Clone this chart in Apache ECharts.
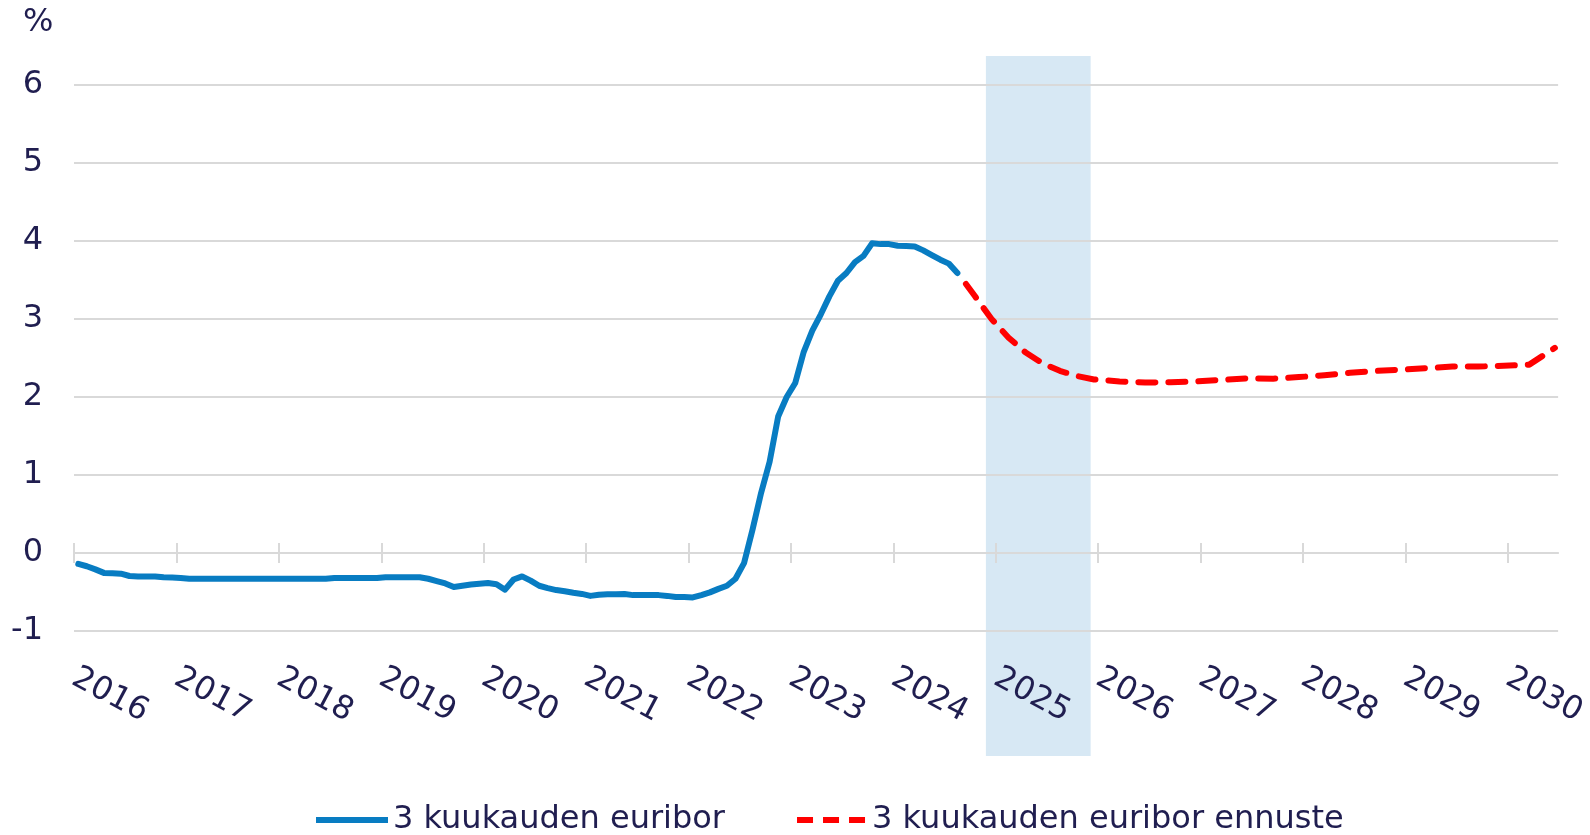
<!DOCTYPE html>
<html>
<head>
<meta charset="utf-8">
<script src="https://cdn.jsdelivr.net/npm/echarts@6/dist/echarts.min.js"></script>
<style>
  html, body { margin: 0; padding: 0; background: #fff; }
  #chart { width: 1590px; height: 835px; }
</style>
</head>
<body>
<div id="chart"></div>
<script>
// 3 kk euribor, kuukausittain tammikuusta 2016 alkaen
var euriborStart = [2016, 1];
var euribor = [
    -0.14, -0.17, -0.21, -0.255, -0.26, -0.265, -0.295, -0.30, -0.30, -0.30, -0.31, -0.315,
    -0.32, -0.33, -0.33, -0.33, -0.33, -0.33, -0.33, -0.33, -0.33, -0.33, -0.33, -0.33,
    -0.33, -0.33, -0.33, -0.33, -0.33, -0.33, -0.32, -0.32, -0.32, -0.32, -0.32, -0.32,
    -0.31, -0.31, -0.31, -0.31, -0.31, -0.33, -0.36, -0.39, -0.435, -0.42, -0.405, -0.395,
    -0.385, -0.40, -0.47, -0.34, -0.30, -0.355, -0.42, -0.45, -0.475, -0.49, -0.51, -0.525,
    -0.55, -0.535, -0.53, -0.53, -0.525, -0.54, -0.54, -0.54, -0.54, -0.55, -0.565, -0.565,
    -0.57, -0.54, -0.505, -0.46, -0.42, -0.33, -0.13, 0.30, 0.77, 1.17, 1.75, 2.00,
    2.18, 2.58, 2.85, 3.06, 3.29, 3.49, 3.59, 3.73, 3.81, 3.97, 3.96, 3.96,
    3.94, 3.935, 3.93, 3.88, 3.82, 3.76, 3.71, 3.59
];

// ennuste
var forecastMonths = [
    '2024-09', '2024-10', '2024-12', '2025-02', '2025-04', '2025-06', '2025-08', '2025-10', '2025-12',
    '2026-03', '2026-06', '2026-09', '2026-12', '2027-03', '2027-06', '2027-09', '2027-12',
    '2028-03', '2028-06', '2028-09', '2028-12', '2029-03', '2029-06', '2029-09', '2029-12',
    '2030-03', '2030-06'
];
var forecast = [
    3.45, 3.30, 3.00, 2.76, 2.57, 2.43, 2.335, 2.27, 2.225,
    2.20, 2.185, 2.19, 2.20, 2.22, 2.24, 2.235, 2.255,
    2.28, 2.31, 2.335, 2.35, 2.37, 2.39, 2.39, 2.40,
    2.415, 2.63
];

var years = [2016, 2017, 2018, 2019, 2020, 2021, 2022, 2023, 2024, 2025, 2026, 2027, 2028, 2029, 2030];
var band = [2024.88, 2025.9];   // korostettu vuosi
var xMin = 2016, xMax = 2030.49;

var FONT = "Verdana, 'DejaVu Sans', sans-serif";
var NAVY = '#201e50';
var GRAY = '#d9d9d9';
var BLUE = '#087cc2';
var RED = '#ff0000';

function monthX(y, m) {
    return y + (m - 0.5) / 12;
}

var euriborData = euribor.map(function (v, i) {
    var m = euriborStart[1] - 1 + i;
    return [monthX(euriborStart[0] + Math.floor(m / 12), m % 12 + 1), v];
});
var forecastData = forecastMonths.map(function (s, i) {
    var p = s.split('-');
    return [monthX(+p[0], +p[1]), forecast[i]];
});

var myChart = echarts.init(document.getElementById('chart'));

var option = {
    animation: false,
    textStyle: { fontFamily: FONT },
    title: {
        text: '%',
        left: 18,
        top: 2,
        textStyle: { fontSize: 32, fontWeight: 'normal', color: NAVY, fontFamily: FONT }
    },
    legend: {
        data: [
            { name: '3 kuukauden euribor', icon: 'path://M0,0h72v6h-72z', itemStyle: { color: BLUE } },
            { name: '3 kuukauden euribor ennuste', icon: 'path://M0,0h16v6h-16z M26,0h16v6h-16z M52,0h16v6h-16z', itemStyle: { color: RED } }
        ],
        left: 311,
        top: 799,
        itemWidth: 72,
        itemHeight: 6,
        itemGap: 72,
        textStyle: { fontSize: 32, color: NAVY, fontFamily: FONT }
    },
    grid: [
        { left: 74, right: 28, top: 85, bottom: 204 },
        { left: 74, right: 28, top: 56, bottom: 79 }
    ],
    xAxis: [
        {
            gridIndex: 0, type: 'value', min: xMin, max: xMax, position: 'bottom',
            axisLine: { show: false, onZero: false },
            axisTick: { show: false },
            splitLine: { show: false },
            axisLabel: {
                customValues: years,
                rotate: -28,
                margin: 45,
                fontSize: 32,
                color: NAVY,
                fontFamily: FONT,
                formatter: function (v) { return String(v); }
            }
        },
        {
            gridIndex: 0, type: 'value', min: xMin, max: xMax, position: 'bottom',
            axisLine: { show: true, onZero: true, onZeroAxisIndex: 0, lineStyle: { color: GRAY, width: 2 } },
            axisTick: { show: true, customValues: years, length: 10, lineStyle: { color: GRAY, width: 2 } },
            axisLabel: { show: false },
            splitLine: { show: false }
        },
        {
            gridIndex: 0, type: 'value', min: xMin, max: xMax, position: 'top',
            axisLine: { show: false, onZero: true, onZeroAxisIndex: 0 },
            axisTick: { show: true, customValues: years, length: 10, lineStyle: { color: GRAY, width: 2 } },
            axisLabel: { show: false },
            splitLine: { show: false }
        },
        { gridIndex: 1, type: 'value', min: xMin, max: xMax, show: false }
    ],
    yAxis: [
        {
            gridIndex: 0, type: 'value', min: -1, max: 6, interval: 1,
            axisLine: { show: false },
            axisTick: { show: false },
            splitLine: { lineStyle: { color: GRAY, width: 2 } },
            axisLabel: { fontSize: 32, color: NAVY, margin: 31, fontFamily: FONT, padding: [5, 0, 0, 0] }
        },
        { gridIndex: 1, type: 'value', min: 0, max: 1, show: false }
    ],
    series: [
        {
            type: 'line',
            xAxisIndex: 3,
            yAxisIndex: 1,
            data: [],
            silent: true,
            z: -1,
            markArea: {
                silent: true,
                z: -1,
                itemStyle: { color: '#d7e8f4' },
                data: [[{ xAxis: band[0] }, { xAxis: band[1] }]]
            }
        },
        {
            name: '3 kuukauden euribor',
            type: 'line',
            xAxisIndex: 0,
            yAxisIndex: 0,
            data: euriborData,
            symbol: 'none',
            itemStyle: { color: BLUE },
            lineStyle: { color: BLUE, width: 6, cap: 'round', join: 'round' }
        },
        {
            name: '3 kuukauden euribor ennuste',
            type: 'line',
            xAxisIndex: 0,
            yAxisIndex: 0,
            data: forecastData,
            symbol: 'none',
            itemStyle: { color: RED },
            lineStyle: { color: RED, width: 6, type: [17, 13], cap: 'round', join: 'round' }
        }
    ]
};

myChart.setOption(option);
</script>
</body>
</html>
